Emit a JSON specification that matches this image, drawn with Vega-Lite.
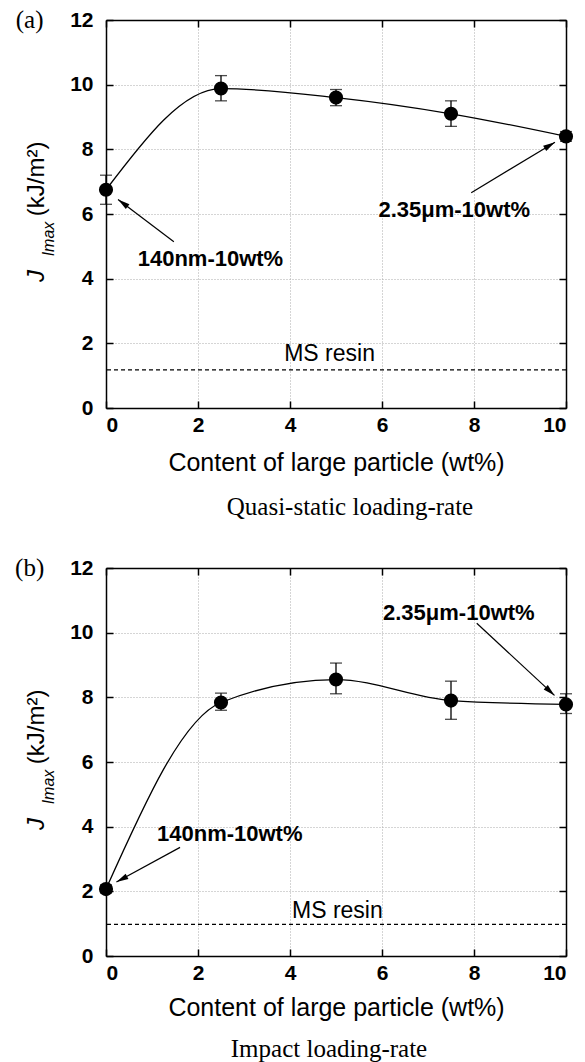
{
  "$schema": "https://vega.github.io/schema/vega-lite/v6.json",
  "padding": {"left": 15, "top": 8, "right": 0, "bottom": 0},
  "spacing": 36,
  "background": "white",
  "datasets": {
    "qa": [
      {"x": 0, "y": 6.75, "lo": 6.3, "hi": 7.2},
      {"x": 2.5, "y": 9.88, "lo": 9.5, "hi": 10.28},
      {"x": 5, "y": 9.6, "lo": 9.35, "hi": 9.85},
      {"x": 7.5, "y": 9.1, "lo": 8.71, "hi": 9.5},
      {"x": 10, "y": 8.4, "lo": 8.25, "hi": 8.55}
    ],
    "qb": [
      {"x": 0, "y": 2.07, "lo": 1.95, "hi": 2.2},
      {"x": 2.5, "y": 7.84, "lo": 7.6, "hi": 8.13},
      {"x": 5, "y": 8.55, "lo": 8.11, "hi": 9.06},
      {"x": 7.5, "y": 7.9, "lo": 7.32, "hi": 8.5},
      {"x": 10, "y": 7.78, "lo": 7.5, "hi": 8.11}
    ],
    "msa": [{"y": 1.18, "t": "MS resin", "tx": 4.86, "ty": 1.67}],
    "msb": [{"y": 0.98, "t": "MS resin", "tx": 5.03, "ty": 1.4}],
    "arra": [
      {"x": 1.475, "y": 5.14, "x2": 0.262, "y2": 6.45, "angle": 307},
      {"x": 7.94, "y": 6.66, "x2": 9.76, "y2": 8.22, "angle": 59}
    ],
    "arrb": [
      {"x": 8.06, "y": 10.29, "x2": 9.75, "y2": 8.06, "angle": 133},
      {"x": 1.61, "y": 3.36, "x2": 0.227, "y2": 2.29, "angle": 242}
    ],
    "laba": [
      {"t": "140nm-10wt%", "x": 2.27, "y": 4.62},
      {"t": "2.35μm-10wt%", "x": 7.57, "y": 6.11}
    ],
    "labb": [
      {"t": "2.35μm-10wt%", "x": 7.67, "y": 10.61},
      {"t": "140nm-10wt%", "x": 2.69, "y": 3.77}
    ],
    "yt1": [{"t": "J", "x": -1.5, "y": 3.9}],
    "yt2": [{"t": "Imax", "x": -1.25, "y": 4.69}],
    "yt3": [{"t": "(kJ/m²)", "x": -1.5, "y": 5.93}],
    "pa": [{"t": "(a)", "x": -1.66, "y": 12}],
    "pb": [{"t": "(b)", "x": -1.66, "y": 12}]
  },
  "config": {
    "view": {"stroke": null},
    "font": "Liberation Sans",
    "axis": {
      "labelFont": "Liberation Sans",
      "labelFontSize": 21,
      "labelFontWeight": "bold",
      "labelColor": "black",
      "titleFont": "Liberation Sans",
      "titleFontSize": 25,
      "titleFontWeight": "normal",
      "titleColor": "black",
      "domainColor": "black",
      "domainWidth": 1.5,
      "tickColor": "black",
      "tickWidth": 1.5,
      "tickSize": -7,
      "gridColor": "#ababab",
      "gridDash": [1, 2],
      "gridWidth": 1
    }
  },
  "vconcat": [
    {
      "width": 460,
      "height": 388,
      "title": {"text": "Quasi-static loading-rate", "orient": "bottom", "frame": "group", "font": "Liberation Serif", "fontSize": 25, "fontWeight": "normal", "color": "black", "offset": 20, "dx": 14},
      "resolve": {"axis": {"x": "independent", "y": "independent"}},
      "layer": [
        {
          "data": {"name": "qa"},
          "mark": {"type": "line", "interpolate": "monotone", "color": "black", "strokeWidth": 1.3},
          "encoding": {
            "x": {"field": "x", "type": "quantitative", "scale": {"domain": [0, 10]},
              "axis": {"orient": "bottom", "values": [0, 2, 4, 6, 8, 10], "grid": true, "title": "Content of large particle (wt%)", "labelPadding": 13, "titlePadding": 15}},
            "y": {"field": "y", "type": "quantitative", "scale": {"domain": [0, 12]},
              "axis": {"orient": "left", "values": [0, 2, 4, 6, 8, 10, 12], "grid": true, "title": null, "labelPadding": 20}}
          }
        },
        {
          "data": {"name": "qa"},
          "mark": {"type": "rule", "color": "black", "strokeWidth": 1.3},
          "encoding": {
            "x": {"field": "x", "type": "quantitative", "axis": null},
            "y": {"field": "lo", "type": "quantitative", "axis": null},
            "y2": {"field": "hi"}
          }
        },
        {
          "data": {"name": "qa"},
          "mark": {"type": "tick", "orient": "horizontal", "color": "black", "size": 12, "thickness": 1.3},
          "encoding": {
            "x": {"field": "x", "type": "quantitative", "axis": null},
            "y": {"field": "lo", "type": "quantitative", "axis": null}
          }
        },
        {
          "data": {"name": "qa"},
          "mark": {"type": "tick", "orient": "horizontal", "color": "black", "size": 12, "thickness": 1.3},
          "encoding": {
            "x": {"field": "x", "type": "quantitative", "axis": null},
            "y": {"field": "hi", "type": "quantitative", "axis": null}
          }
        },
        {
          "data": {"name": "qa"},
          "mark": {"type": "point", "shape": "circle", "filled": true, "color": "black", "opacity": 1, "size": 200},
          "encoding": {
            "x": {"field": "x", "type": "quantitative",
              "axis": {"orient": "top", "values": [0, 2, 4, 6, 8, 10], "labels": false, "grid": false, "title": null}},
            "y": {"field": "y", "type": "quantitative",
              "axis": {"orient": "right", "values": [0, 2, 4, 6, 8, 10, 12], "labels": false, "grid": false, "title": null}}
          }
        },
        {
          "data": {"name": "msa"},
          "mark": {"type": "rule", "color": "black", "strokeWidth": 1.3, "strokeDash": [4, 3]},
          "encoding": {
            "y": {"field": "y", "type": "quantitative", "axis": null}
          }
        },
        {
          "data": {"name": "msa"},
          "mark": {"type": "text", "font": "Liberation Sans", "fontSize": 23, "color": "black", "baseline": "middle", "align": "center"},
          "encoding": {
            "x": {"field": "tx", "type": "quantitative", "axis": null},
            "y": {"field": "ty", "type": "quantitative", "axis": null},
            "text": {"field": "t"}
          }
        },
        {
          "data": {"name": "arra"},
          "mark": {"type": "rule", "color": "black", "strokeWidth": 1.2},
          "encoding": {
            "x": {"field": "x", "type": "quantitative", "axis": null},
            "y": {"field": "y", "type": "quantitative", "axis": null},
            "x2": {"field": "x2"},
            "y2": {"field": "y2"}
          }
        },
        {
          "data": {"name": "arra"},
          "mark": {"type": "point", "shape": "M0,0L0.6,2.4L-0.6,2.4Z", "filled": true, "color": "black", "opacity": 1, "size": 100},
          "encoding": {
            "x": {"field": "x2", "type": "quantitative", "axis": null},
            "y": {"field": "y2", "type": "quantitative", "axis": null},
            "angle": {"field": "angle", "type": "quantitative", "scale": null}
          }
        },
        {
          "data": {"name": "laba"},
          "mark": {"type": "text", "font": "Liberation Sans", "fontSize": 22, "fontWeight": "bold", "color": "black", "baseline": "middle", "align": "center"},
          "encoding": {
            "x": {"field": "x", "type": "quantitative", "axis": null},
            "y": {"field": "y", "type": "quantitative", "axis": null},
            "text": {"field": "t"}
          }
        },
        {
          "data": {"name": "yt1"},
          "mark": {"type": "text", "font": "Liberation Sans", "fontSize": 24, "fontStyle": "italic", "color": "black", "baseline": "middle", "align": "left", "angle": 270},
          "encoding": {
            "x": {"field": "x", "type": "quantitative", "axis": null},
            "y": {"field": "y", "type": "quantitative", "axis": null},
            "text": {"field": "t"}
          }
        },
        {
          "data": {"name": "yt2"},
          "mark": {"type": "text", "font": "Liberation Sans", "fontSize": 16, "fontStyle": "italic", "color": "black", "baseline": "middle", "align": "left", "angle": 270},
          "encoding": {
            "x": {"field": "x", "type": "quantitative", "axis": null},
            "y": {"field": "y", "type": "quantitative", "axis": null},
            "text": {"field": "t"}
          }
        },
        {
          "data": {"name": "yt3"},
          "mark": {"type": "text", "font": "Liberation Sans", "fontSize": 24, "color": "black", "baseline": "middle", "align": "left", "angle": 270},
          "encoding": {
            "x": {"field": "x", "type": "quantitative", "axis": null},
            "y": {"field": "y", "type": "quantitative", "axis": null},
            "text": {"field": "t"}
          }
        },
        {
          "data": {"name": "pa"},
          "mark": {"type": "text", "font": "Liberation Serif", "fontSize": 25, "color": "black", "baseline": "middle", "align": "center"},
          "encoding": {
            "x": {"field": "x", "type": "quantitative", "axis": null},
            "y": {"field": "y", "type": "quantitative", "axis": null},
            "text": {"field": "t"}
          }
        }
      ]
    },
    {
      "width": 460,
      "height": 388,
      "title": {"text": "Impact loading-rate", "orient": "bottom", "frame": "group", "font": "Liberation Serif", "fontSize": 25, "fontWeight": "normal", "color": "black", "offset": 17, "dx": -7},
      "resolve": {"axis": {"x": "independent", "y": "independent"}},
      "layer": [
        {
          "data": {"name": "qb"},
          "mark": {"type": "line", "interpolate": "monotone", "color": "black", "strokeWidth": 1.3},
          "encoding": {
            "x": {"field": "x", "type": "quantitative", "scale": {"domain": [0, 10]},
              "axis": {"orient": "bottom", "values": [0, 2, 4, 6, 8, 10], "grid": true, "title": "Content of large particle (wt%)", "labelPadding": 13, "titlePadding": 12}},
            "y": {"field": "y", "type": "quantitative", "scale": {"domain": [0, 12]},
              "axis": {"orient": "left", "values": [0, 2, 4, 6, 8, 10, 12], "grid": true, "title": null, "labelPadding": 20}}
          }
        },
        {
          "data": {"name": "qb"},
          "mark": {"type": "rule", "color": "black", "strokeWidth": 1.3},
          "encoding": {
            "x": {"field": "x", "type": "quantitative", "axis": null},
            "y": {"field": "lo", "type": "quantitative", "axis": null},
            "y2": {"field": "hi"}
          }
        },
        {
          "data": {"name": "qb"},
          "mark": {"type": "tick", "orient": "horizontal", "color": "black", "size": 12, "thickness": 1.3},
          "encoding": {
            "x": {"field": "x", "type": "quantitative", "axis": null},
            "y": {"field": "lo", "type": "quantitative", "axis": null}
          }
        },
        {
          "data": {"name": "qb"},
          "mark": {"type": "tick", "orient": "horizontal", "color": "black", "size": 12, "thickness": 1.3},
          "encoding": {
            "x": {"field": "x", "type": "quantitative", "axis": null},
            "y": {"field": "hi", "type": "quantitative", "axis": null}
          }
        },
        {
          "data": {"name": "qb"},
          "mark": {"type": "point", "shape": "circle", "filled": true, "color": "black", "opacity": 1, "size": 200},
          "encoding": {
            "x": {"field": "x", "type": "quantitative",
              "axis": {"orient": "top", "values": [0, 2, 4, 6, 8, 10], "labels": false, "grid": false, "title": null}},
            "y": {"field": "y", "type": "quantitative",
              "axis": {"orient": "right", "values": [0, 2, 4, 6, 8, 10, 12], "labels": false, "grid": false, "title": null}}
          }
        },
        {
          "data": {"name": "msb"},
          "mark": {"type": "rule", "color": "black", "strokeWidth": 1.3, "strokeDash": [4, 3]},
          "encoding": {
            "y": {"field": "y", "type": "quantitative", "axis": null}
          }
        },
        {
          "data": {"name": "msb"},
          "mark": {"type": "text", "font": "Liberation Sans", "fontSize": 23, "color": "black", "baseline": "middle", "align": "center"},
          "encoding": {
            "x": {"field": "tx", "type": "quantitative", "axis": null},
            "y": {"field": "ty", "type": "quantitative", "axis": null},
            "text": {"field": "t"}
          }
        },
        {
          "data": {"name": "arrb"},
          "mark": {"type": "rule", "color": "black", "strokeWidth": 1.2},
          "encoding": {
            "x": {"field": "x", "type": "quantitative", "axis": null},
            "y": {"field": "y", "type": "quantitative", "axis": null},
            "x2": {"field": "x2"},
            "y2": {"field": "y2"}
          }
        },
        {
          "data": {"name": "arrb"},
          "mark": {"type": "point", "shape": "M0,0L0.6,2.4L-0.6,2.4Z", "filled": true, "color": "black", "opacity": 1, "size": 100},
          "encoding": {
            "x": {"field": "x2", "type": "quantitative", "axis": null},
            "y": {"field": "y2", "type": "quantitative", "axis": null},
            "angle": {"field": "angle", "type": "quantitative", "scale": null}
          }
        },
        {
          "data": {"name": "labb"},
          "mark": {"type": "text", "font": "Liberation Sans", "fontSize": 22, "fontWeight": "bold", "color": "black", "baseline": "middle", "align": "center"},
          "encoding": {
            "x": {"field": "x", "type": "quantitative", "axis": null},
            "y": {"field": "y", "type": "quantitative", "axis": null},
            "text": {"field": "t"}
          }
        },
        {
          "data": {"name": "yt1"},
          "mark": {"type": "text", "font": "Liberation Sans", "fontSize": 24, "fontStyle": "italic", "color": "black", "baseline": "middle", "align": "left", "angle": 270},
          "encoding": {
            "x": {"field": "x", "type": "quantitative", "axis": null},
            "y": {"field": "y", "type": "quantitative", "axis": null},
            "text": {"field": "t"}
          }
        },
        {
          "data": {"name": "yt2"},
          "mark": {"type": "text", "font": "Liberation Sans", "fontSize": 16, "fontStyle": "italic", "color": "black", "baseline": "middle", "align": "left", "angle": 270},
          "encoding": {
            "x": {"field": "x", "type": "quantitative", "axis": null},
            "y": {"field": "y", "type": "quantitative", "axis": null},
            "text": {"field": "t"}
          }
        },
        {
          "data": {"name": "yt3"},
          "mark": {"type": "text", "font": "Liberation Sans", "fontSize": 24, "color": "black", "baseline": "middle", "align": "left", "angle": 270},
          "encoding": {
            "x": {"field": "x", "type": "quantitative", "axis": null},
            "y": {"field": "y", "type": "quantitative", "axis": null},
            "text": {"field": "t"}
          }
        },
        {
          "data": {"name": "pb"},
          "mark": {"type": "text", "font": "Liberation Serif", "fontSize": 25, "color": "black", "baseline": "middle", "align": "center"},
          "encoding": {
            "x": {"field": "x", "type": "quantitative", "axis": null},
            "y": {"field": "y", "type": "quantitative", "axis": null},
            "text": {"field": "t"}
          }
        }
      ]
    }
  ]
}
